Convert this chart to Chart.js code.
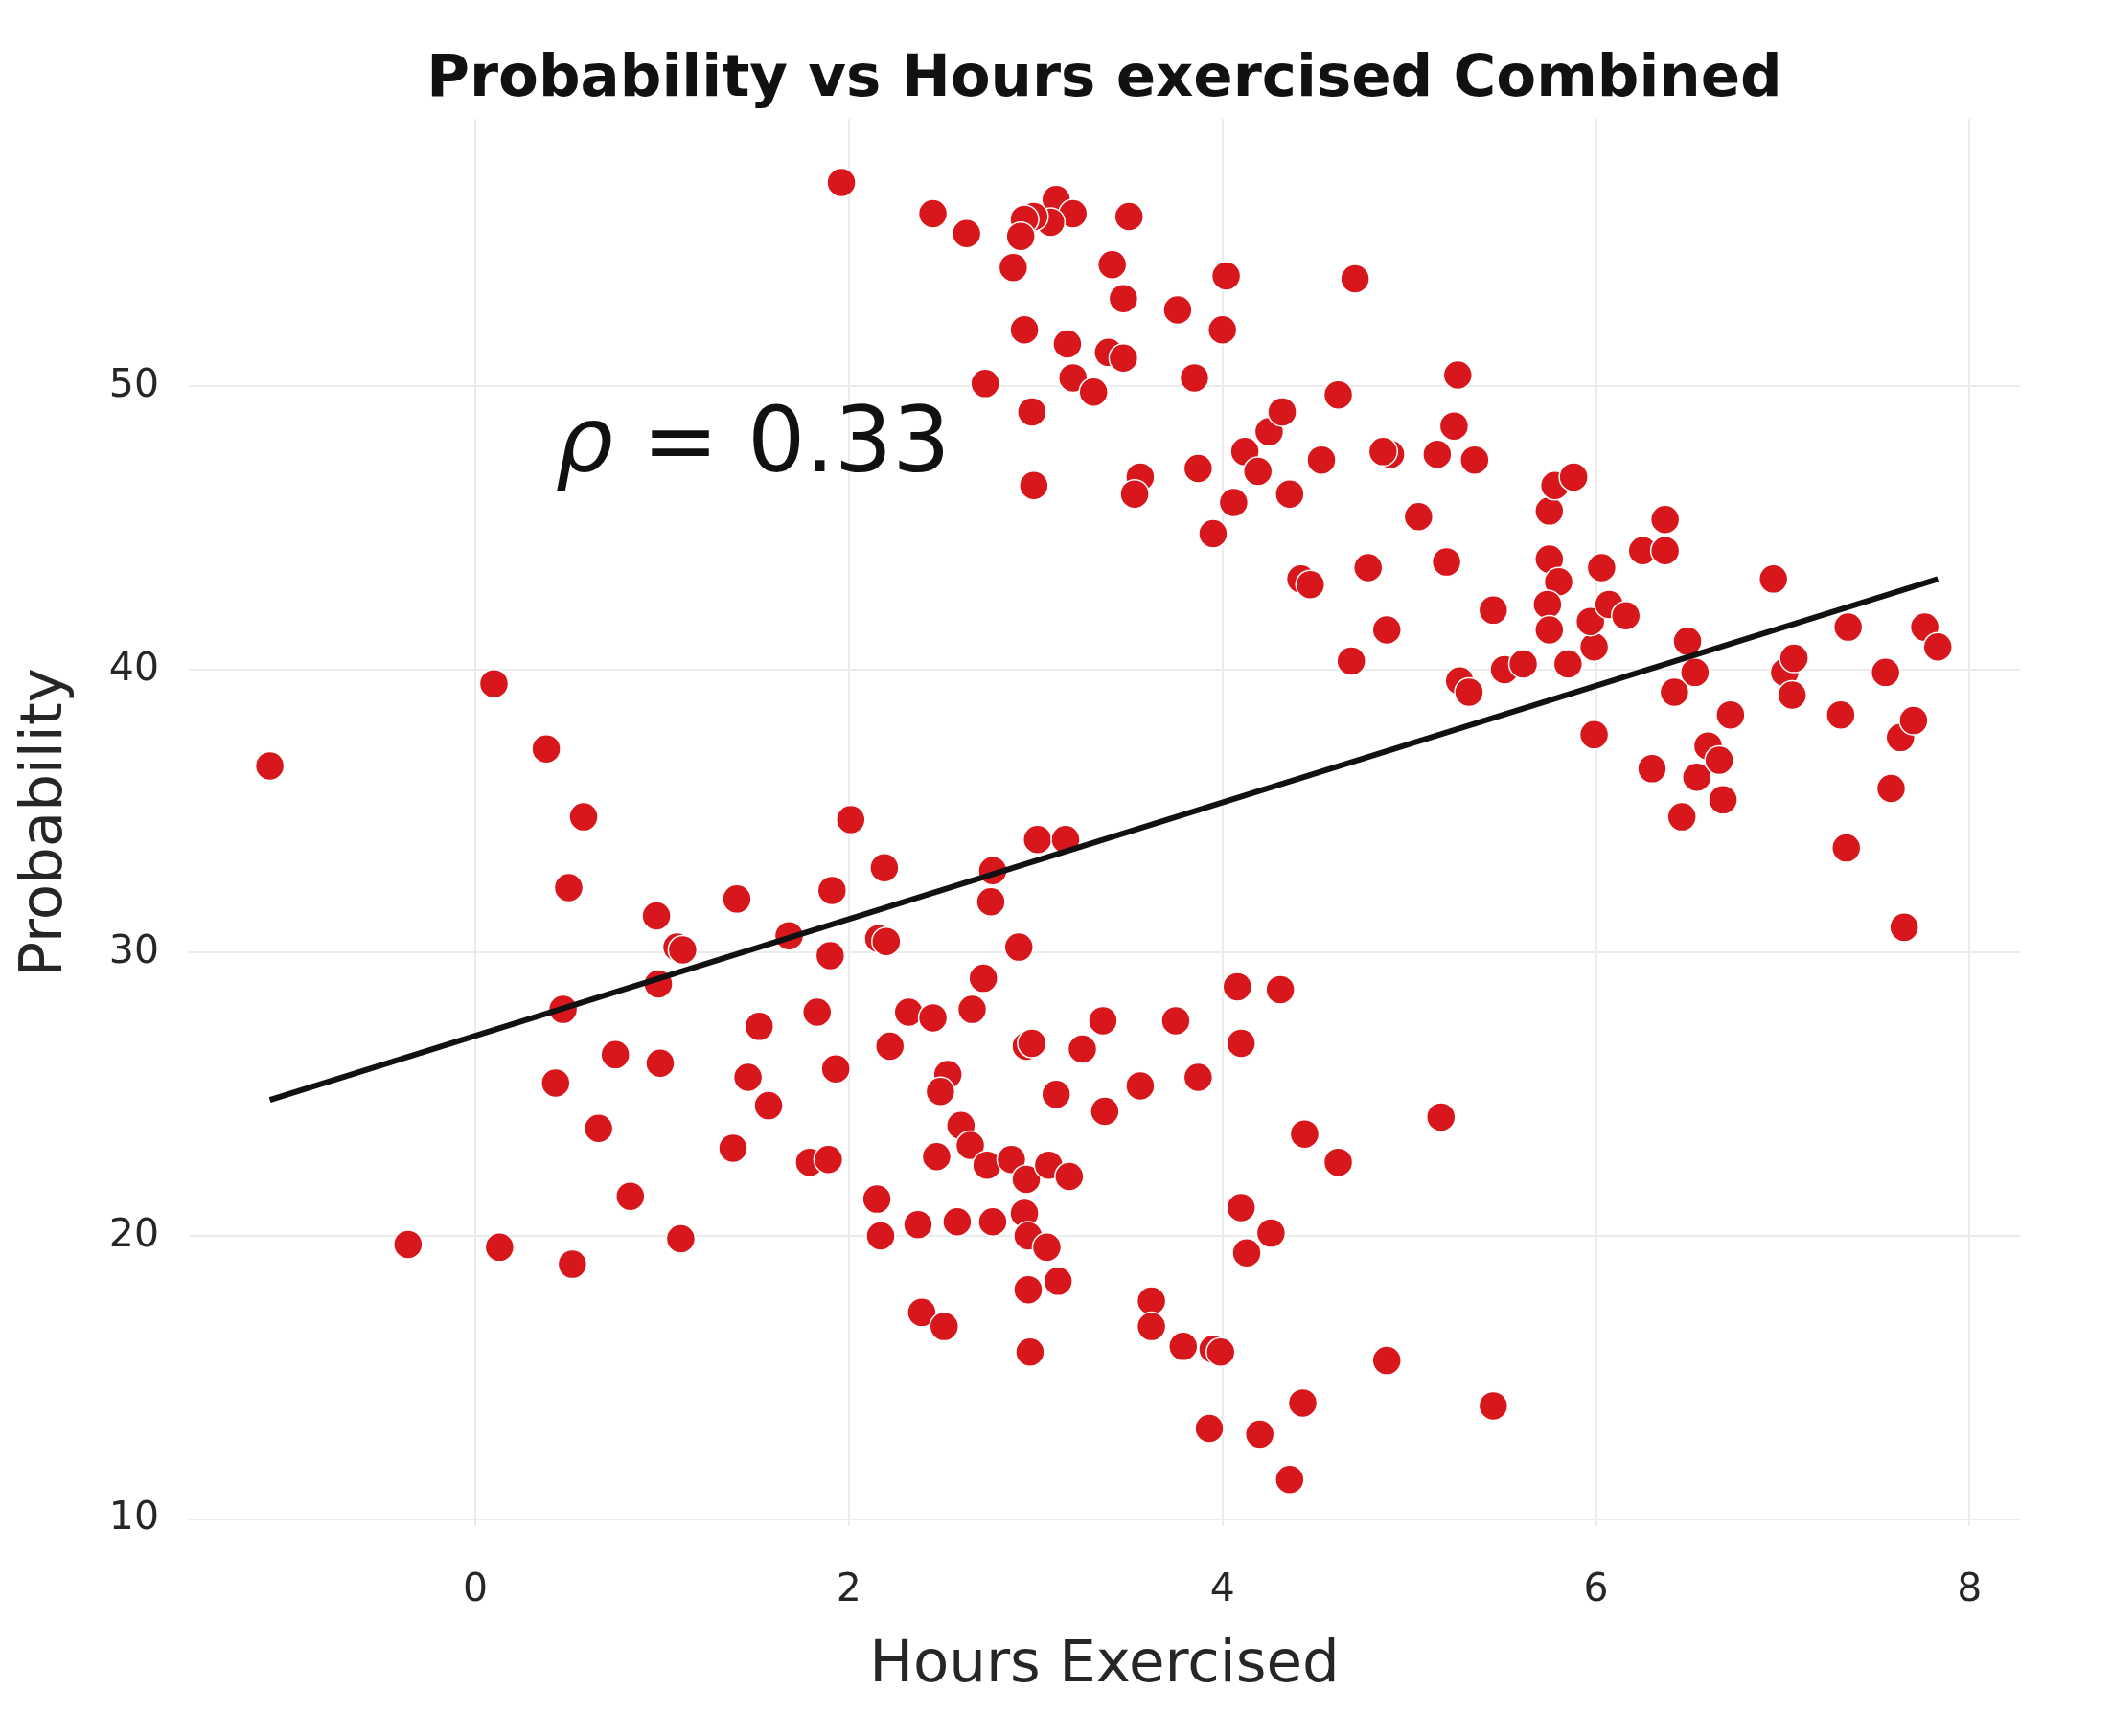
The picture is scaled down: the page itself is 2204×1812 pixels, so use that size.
<!DOCTYPE html>
<html>
<head>
<meta charset="utf-8">
<script src="https://cdn.jsdelivr.net/npm/chart.js@4.4.1/dist/chart.umd.min.js"></script>
<style>
  html, body { margin: 0; padding: 0; background: #fff; }
  #wrap { width: 2204px; height: 1812px; }
</style>
</head>
<body>
<div id="wrap"><canvas id="myChart" width="2204" height="1812"></canvas></div>
<script>
// hours exercised (x) and probability (y)
var hours = [
  1.96, 2.45, 2.63, 3.11, 3.20, 3.08, 2.99, 2.94, 2.92, 3.50,
  2.88, 3.41, 3.47, 4.02, 4.71, 3.76, 2.94, 4.00, 3.17, 3.39,
  3.47, 3.20, 3.31, 3.85, 2.73, 2.98, 2.99, 3.56, 3.53, 3.87,
  3.95, 4.06, 4.12, 4.19, 4.25, 4.32, 4.36, 4.53, 4.62, 4.42,
  4.47, 4.78, 4.90, 4.86, 5.05, 4.88, 4.69, 5.26, 5.24, 5.15,
  5.35, 5.20, 5.45, 5.27, 5.32, 5.51, 5.61, 5.75, 5.78, 5.88,
  5.75, 5.80, 5.74, 5.75, 5.85, 5.99, 5.97, 6.07, 6.16, 6.03,
  5.99, 6.25, 6.37, 6.37, 6.30, 6.49, 6.53, 6.42, 6.46, 6.54,
  6.60, 6.66, 6.68, 6.72, 6.95, 7.01, 7.06, 7.05, 7.31, 7.35,
  7.34, 7.55, 7.58, 7.63, 7.70, 7.65, 7.76, 7.83,
  -1.10, -0.36, 0.10, 0.13, 0.38, 0.58, 0.50, 0.47, 0.43, 0.52,
  0.66, 0.75, 0.83, 0.97, 0.98, 0.99, 1.08, 1.11, 1.10, 1.40,
  1.38, 1.46, 1.52, 1.57, 1.68, 1.83, 1.79, 1.89, 1.91, 1.90,
  1.93, 2.01, 2.19, 2.16, 2.20, 2.15, 2.17, 2.22, 2.32, 2.37,
  2.39, 2.51, 2.45, 2.47, 2.53, 2.49, 2.58, 2.60, 2.65, 2.66,
  2.72, 2.76, 2.77, 2.77, 2.74, 2.87, 2.91, 2.95, 2.98, 2.94,
  2.95, 2.97, 2.96, 2.96, 3.06, 3.07, 3.01, 3.16, 3.11, 3.12,
  3.18, 3.25, 3.36, 3.37, 3.56, 3.62, 3.62, 3.75, 3.79, 3.87,
  3.93, 3.95, 3.99, 4.08, 4.10, 4.10, 4.13, 4.26, 4.31, 4.20,
  4.36, 4.43, 4.44, 4.62, 4.88, 5.17, 5.45
];
var probability = [
  57.2, 56.1, 55.4, 56.6, 56.1, 55.8, 56.0, 55.9, 55.3, 56.0,
  54.2, 54.3, 53.1, 53.9, 53.8, 52.7, 52.0, 52.0, 51.5, 51.2,
  51.0, 50.3, 49.8, 50.3, 50.1, 49.1, 46.5, 46.8, 46.2, 47.1,
  44.8, 45.9, 47.7, 47.0, 48.4, 49.1, 46.2, 47.4, 49.7, 43.2,
  43.0, 43.6, 47.6, 47.7, 45.4, 41.4, 40.3, 50.4, 48.6, 47.6,
  47.4, 43.8, 42.1, 39.6, 39.2, 40.0, 40.2, 45.6, 46.5, 46.8,
  43.9, 43.1, 42.3, 41.4, 40.2, 40.8, 41.7, 42.3, 41.9, 43.6,
  37.7, 44.2, 44.2, 45.3, 36.5, 41.0, 39.9, 39.2, 34.8, 36.2,
  37.3, 36.8, 35.4, 38.4, 43.2, 39.9, 40.4, 39.1, 38.4, 41.5,
  33.7, 39.9, 35.8, 37.6, 38.2, 30.9, 41.5, 40.8,
  36.6, 19.7, 39.5, 19.6, 37.2, 34.8, 32.3, 28.0, 25.4, 19.0,
  23.8, 26.4, 21.4, 31.3, 28.9, 26.1, 30.2, 30.1, 19.9, 31.9,
  23.1, 25.6, 27.4, 24.6, 30.6, 27.9, 22.6, 22.7, 32.2, 29.9,
  25.9, 34.7, 33.0, 30.5, 30.4, 21.3, 20.0, 26.7, 27.9, 20.4,
  17.3, 16.8, 27.7, 22.8, 25.7, 25.1, 20.5, 23.9, 23.2, 28.0,
  29.1, 31.8, 32.9, 20.5, 22.5, 22.7, 30.2, 26.7, 26.8, 20.8,
  22.0, 15.9, 18.1, 20.0, 19.6, 22.5, 34.0, 34.0, 25.0, 18.4,
  22.1, 26.6, 27.6, 24.4, 25.3, 17.7, 16.8, 27.6, 16.1, 25.6,
  13.2, 16.0, 15.9, 28.8, 26.8, 21.0, 19.4, 20.1, 28.7, 13.0,
  11.4, 14.1, 23.6, 22.6, 15.6, 24.2, 14.0
];

// regression line ends
var fitHours = [-1.10, 7.83];
var fitProb  = [24.8, 43.2];

var xTicks = [0, 2, 4, 6, 8];
var yTicks = [10, 20, 30, 40, 50];

var chartTitle = "Probability vs Hours exercised Combined";
var rhoText = "= 0.33";
var rhoAt = [0.43, 47.0];

var points = [];
for (var i = 0; i < hours.length; i++) {
  points.push({x: hours[i], y: probability[i]});
}
var fit = [];
for (var j = 0; j < fitHours.length; j++) {
  fit.push({x: fitHours[j], y: fitProb[j]});
}

var FONT = "'DejaVu Sans', sans-serif";

// title centred over the plot area + the rho annotation
var textBits = {
  id: "textBits",
  afterDraw: function(chart) {
    var ctx = chart.ctx;
    var area = chart.chartArea;
    ctx.save();
    ctx.fillStyle = "#111";
    ctx.textBaseline = "alphabetic";
    ctx.textAlign = "center";
    ctx.font = "bold 61px " + FONT;
    ctx.fillText(chartTitle, (area.left + area.right) / 2, 100);

    var px = chart.scales.x.getPixelForValue(rhoAt[0]);
    var py = chart.scales.y.getPixelForValue(rhoAt[1]);
    ctx.textAlign = "left";
    ctx.font = "italic 95px " + FONT;
    ctx.fillText("\u03c1", px, py);
    var w = ctx.measureText("\u03c1").width;
    ctx.font = "95px " + FONT;
    ctx.fillText(" " + rhoText, px + w, py);
    ctx.restore();
  }
};

var ctx = document.getElementById("myChart");

var myChart = new Chart(ctx, {
  type: "scatter",
  data: {
    datasets: [
      {
        type: "line",
        data: fit,
        borderColor: "#111",
        borderWidth: 6,
        pointRadius: 0,
        fill: false,
        order: 0
      },
      {
        data: points,
        backgroundColor: "#d8171c",
        borderColor: "#ffffff",
        borderWidth: 1.5,
        pointRadius: 15,
        order: 1
      }
    ]
  },
  options: {
    responsive: false,
    devicePixelRatio: 1,
    animation: false,
    layout: { padding: { left: 0, right: 96, top: 124, bottom: 0 } },
    plugins: {
      legend: { display: false },
      tooltip: { enabled: false },
      title: { display: false }
    },
    scales: {
      x: {
        type: "linear",
        min: -1.534,
        max: 8.27,
        afterBuildTicks: function(scale) {
          scale.ticks = xTicks.map(function(v) { return {value: v}; });
        },
        afterFit: function(scale) { scale.height = 219; },
        grid: { color: "#ececec", lineWidth: 2, drawTicks: false },
        border: { display: false },
        ticks: {
          color: "#262626",
          padding: 43,
          font: { family: FONT, size: 41 }
        },
        title: {
          display: true,
          text: "Hours Exercised",
          color: "#262626",
          font: { family: FONT, size: 61 },
          padding: { top: 0, bottom: 36 }
        }
      },
      y: {
        type: "linear",
        min: 9.75,
        max: 59.45,
        afterBuildTicks: function(scale) {
          scale.ticks = yTicks.map(function(v) { return {value: v}; });
        },
        afterFit: function(scale) { scale.width = 197; },
        grid: { color: "#ececec", lineWidth: 2, drawTicks: false },
        border: { display: false },
        ticks: {
          color: "#262626",
          padding: 31,
          font: { family: FONT, size: 41 }
        },
        title: {
          display: true,
          text: "Probability",
          color: "#262626",
          font: { family: FONT, size: 61 },
          padding: { top: 12, bottom: 0 }
        }
      }
    }
  },
  plugins: [textBits]
});
</script>
</body>
</html>
